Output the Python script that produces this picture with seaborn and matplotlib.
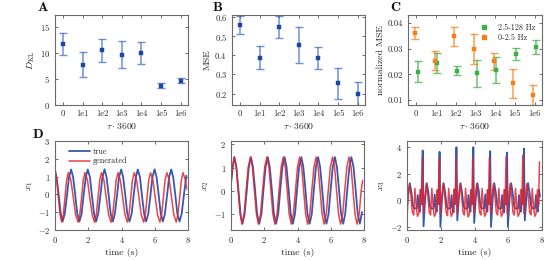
import numpy as np
import pandas as pd
import seaborn as sns
import matplotlib
matplotlib.use("Agg")
import matplotlib.pyplot as plt

# ---- data ----
tau_labels = ["0", "1e1", "1e2", "1e3", "1e4", "1e5", "1e6"]

dkl_mean = [11.8, 7.7, 10.5, 9.7, 10.0, 3.7, 4.7]
dkl_err = [2.1, 2.4, 2.2, 2.6, 2.2, 0.5, 0.5]

mse_mean = [0.561, 0.389, 0.549, 0.455, 0.387, 0.254, 0.200]
mse_err = [0.048, 0.062, 0.058, 0.093, 0.058, 0.080, 0.063]

nmse_hi_mean = [0.0211, 0.0244, 0.0214, 0.0204, 0.0217, 0.0279, 0.0307]
nmse_hi_err = [0.0040, 0.0040, 0.0018, 0.0052, 0.0050, 0.0024, 0.0028]
nmse_lo_mean = [0.0361, 0.0253, 0.0348, 0.0298, 0.0251, 0.0165, 0.0120]
nmse_lo_err = [0.0023, 0.0037, 0.0036, 0.0058, 0.0033, 0.0056, 0.0040]

# x1
t_x1_true = [0, .12, .23, .35, .46, .59, .72, .84, .97, 1.09, 1.22, 1.34, 1.47, 1.60, 1.72, 1.85,
             1.97, 2.10, 2.22, 2.35, 2.47, 2.60, 2.73, 2.85, 2.98, 3.10, 3.23, 3.35, 3.48, 3.60,
             3.73, 3.85, 3.98, 4.10, 4.23, 4.35, 4.48, 4.61, 4.73, 4.86, 4.98, 5.11, 5.23, 5.36,
             5.48, 5.61, 5.74, 5.86, 5.99, 6.11, 6.24, 6.36, 6.49, 6.61, 6.74, 6.86, 6.99, 7.11,
             7.24, 7.36, 7.49, 7.62, 7.75, 7.90]
x1_true = [1.37, .80, -.10, -1.12, -1.52, -1.08, -.06, .96, 1.40, .97, -.06, -1.09, -1.52, -1.09,
           -.06, .96, 1.40, .97, -.06, -1.09, -1.53, -1.09, -.06, .96, 1.41, .97, -.06, -1.09,
           -1.52, -1.09, -.06, .96, 1.40, .97, -.06, -1.09, -1.52, -1.09, -.06, .96, 1.40, .97,
           -.06, -1.09, -1.52, -1.09, -.06, .96, 1.41, .97, -.06, -1.09, -1.52, -1.09, -.06, .96,
           1.40, .97, -.06, -1.09, -1.52, -1.09, -.06, 1.05]
t_x1_gen = [0, .10, .20, .30, .40, .50, .60, .70, .80, .95, 1.10, 1.24, 1.39, 1.49, 1.60, 1.70,
            1.80, 1.95, 2.09, 2.24, 2.38, 2.48, 2.59, 2.69, 2.80, 2.94, 3.08, 3.23, 3.37, 3.47,
            3.58, 3.68, 3.79, 3.93, 4.07, 4.21, 4.35, 4.45, 4.56, 4.66, 4.77, 4.91, 5.05, 5.19,
            5.33, 5.43, 5.54, 5.64, 5.75, 5.89, 6.03, 6.17, 6.31, 6.41, 6.52, 6.62, 6.73, 6.87,
            7.01, 7.15, 7.29, 7.39, 7.50, 7.60, 7.70, 7.84, 7.92]
x1_gen = [1.35, .85, -.15, -1.10, -1.56, -1.15, -.17, .81, 1.22, .81, -.17, -1.15, -1.56, -1.15,
          -.17, .81, 1.22, .81, -.17, -1.15, -1.56, -1.15, -.17, .81, 1.22, .81, -.17, -1.15,
          -1.56, -1.15, -.17, .81, 1.22, .81, -.17, -1.15, -1.56, -1.15, -.17, .81, 1.22, .81,
          -.17, -1.15, -1.56, -1.15, -.17, .81, 1.22, .81, -.17, -1.15, -1.56, -1.15, -.17, .81,
          1.22, .81, -.17, -1.15, -1.56, -1.15, -.17, .81, 1.22, .81, .30]

# x2
t_x2_true = [0, .10, .20, .32, .45, .57, .69, .82, .95, 1.07, 1.20, 1.32, 1.45, 1.57, 1.70, 1.83,
             1.95, 2.08, 2.21, 2.33, 2.46, 2.58, 2.71, 2.84, 2.96, 3.09, 3.22, 3.34, 3.47, 3.59,
             3.72, 3.85, 3.97, 4.10, 4.23, 4.35, 4.48, 4.60, 4.73, 4.86, 4.98, 5.11, 5.24, 5.36,
             5.49, 5.61, 5.74, 5.87, 5.99, 6.12, 6.25, 6.37, 6.50, 6.62, 6.75, 6.87, 6.99, 7.12,
             7.24, 7.37, 7.50, 7.62, 7.75, 7.88]
x2_true = [.30, 1.00, 1.45, 1.03, .03, -.98, -1.40, -.98, .03, 1.03, 1.45, 1.03, .03, -.98, -1.40,
           -.98, .03, 1.03, 1.45, 1.03, .03, -.98, -1.40, -.98, .03, 1.03, 1.45, 1.03, .03, -.98,
           -1.40, -.98, .03, 1.03, 1.45, 1.03, .03, -.98, -1.40, -.98, .03, 1.03, 1.45, 1.03, .03,
           -.98, -1.40, -.98, .03, 1.03, 1.45, 1.03, .03, -.98, -1.40, -.98, .03, 1.03, 1.45, 1.03,
           .03, -.98, -1.40, -.90]
t_x2_gen = [0, .10, .20, .32, .43, .55, .66, .79, .91, 1.04, 1.17, 1.29, 1.41, 1.53, 1.65, 1.78,
            1.90, 2.03, 2.16, 2.28, 2.40, 2.52, 2.64, 2.77, 2.89, 3.02, 3.14, 3.26, 3.38, 3.50,
            3.62, 3.75, 3.88, 4.00, 4.13, 4.25, 4.37, 4.49, 4.61, 4.74, 4.86, 4.99, 5.12, 5.24,
            5.36, 5.48, 5.60, 5.73, 5.85, 5.98, 6.11, 6.23, 6.35, 6.47, 6.59, 6.72, 6.84, 6.97,
            7.10, 7.22, 7.34, 7.46, 7.58, 7.71, 7.83, 7.92]
x2_gen = [.41, 1.05, 1.45, 1.03, .02, -.99, -1.42, -.99, .02, 1.03, 1.45, 1.03, .02, -.99, -1.42,
          -.99, .02, 1.03, 1.45, 1.03, .02, -.99, -1.42, -.99, .02, 1.03, 1.45, 1.03, .02, -.99,
          -1.42, -.99, .02, 1.03, 1.45, 1.03, .02, -.99, -1.42, -.99, .02, 1.03, 1.45, 1.03, .02,
          -.99, -1.42, -.99, .02, 1.03, 1.45, 1.03, .02, -.99, -1.42, -.99, .02, 1.03, 1.45, 1.03,
          .02, -.99, -1.42, -.99, .02, .45]

# x3
t_x3_true = [0, .08, .17, .26, .35, .42, .50, .58, .64, .70, .76, .82, .88, .93,
             .98, 1.08, 1.17, 1.26, 1.35, 1.42, 1.50, 1.58, 1.64, 1.70, 1.76, 1.82, 1.88, 1.93,
             1.98, 2.08, 2.17, 2.26, 2.35, 2.42, 2.50, 2.58, 2.64, 2.70, 2.76, 2.82, 2.88, 2.93,
             2.98, 3.08, 3.17, 3.26, 3.35, 3.42, 3.50, 3.58, 3.64, 3.70, 3.76, 3.82, 3.88, 3.93,
             3.98, 4.08, 4.17, 4.26, 4.35, 4.42, 4.50, 4.58, 4.64, 4.70, 4.76, 4.82, 4.88, 4.93,
             4.98, 5.08, 5.17, 5.26, 5.35, 5.42, 5.50, 5.58, 5.64, 5.70, 5.76, 5.82, 5.88, 5.93,
             5.98, 6.08, 6.17, 6.26, 6.35, 6.42, 6.50, 6.58, 6.64, 6.70, 6.76, 6.82, 6.88, 6.93,
             6.98, 7.08, 7.17, 7.26, 7.35, 7.42, 7.50, 7.58, 7.64, 7.70, 7.76, 7.82, 7.88]
x3_true = [-.30, .60, 1.30, .60, -.40, -.60, -.60, -.62, .40, -.50, -.85, .80, -.30, 3.75,
           -1.95, .20, 1.30, .65, -.40, -.60, -.62, -.60, .45, -.50, -.85, .75, -.30, 3.65,
           -2.00, .20, 1.30, .60, -.45, -.62, -.60, -.60, .40, -.55, -.90, .80, -.25, 4.00,
           -1.50, .25, 1.30, .60, -.40, -.60, -.62, -.60, .40, -.50, -.85, .80, -.30, 4.00,
           -1.70, .20, 1.30, .65, -.40, -.60, -.60, -.62, .45, -.50, -.85, .80, -.30, 3.70,
           -2.00, .20, 1.30, .60, -.40, -.60, -.62, -.60, .40, -.50, -.90, .80, -.30, 3.60,
           -2.00, .20, 1.30, .60, -.45, -.60, -.60, -.62, .40, -.50, -.85, .80, -.30, 3.90,
           -1.50, .20, 1.30, .60, -.40, -.60, -.60, -.62, .40, -.50, -.85, .80, .30]
t_x3_gen = [0, .07, .15, .24, .32, .40, .47, .55, .62, .70, .78, .85, .91,
            .98, 1.06, 1.15, 1.24, 1.32, 1.40, 1.47, 1.55, 1.62, 1.70, 1.78, 1.85, 1.91,
            1.98, 2.06, 2.15, 2.24, 2.32, 2.40, 2.47, 2.55, 2.62, 2.70, 2.78, 2.85, 2.91,
            2.98, 3.06, 3.15, 3.24, 3.32, 3.40, 3.47, 3.55, 3.62, 3.70, 3.78, 3.85, 3.89,
            3.96, 4.04, 4.13, 4.22, 4.30, 4.38, 4.45, 4.53, 4.60, 4.68, 4.76, 4.83, 4.88,
            4.95, 5.03, 5.12, 5.21, 5.29, 5.37, 5.44, 5.52, 5.59, 5.67, 5.75, 5.82, 5.87,
            5.94, 6.02, 6.11, 6.20, 6.28, 6.36, 6.43, 6.51, 6.58, 6.66, 6.74, 6.81, 6.86,
            6.93, 7.01, 7.10, 7.19, 7.27, 7.35, 7.42, 7.50, 7.57, 7.65, 7.73, 7.80, 7.85]
x3_gen = [-1.40, .30, 1.25, .30, -.90, -1.10, .90, -.50, -1.20, -1.00, .80, -.30, 3.20,
          -1.00, .30, 1.25, .30, -.90, -1.10, .90, -.50, -1.20, -1.00, .80, -.30, 3.20,
          -1.00, .30, 1.25, .30, -.90, -1.15, .90, -.50, -1.20, -1.00, .85, -.30, 3.20,
          -1.00, .30, 1.25, .30, -.90, -1.10, .90, -.50, -1.25, -1.00, .80, -.30, 3.20,
          -1.00, .30, 1.25, .30, -.90, -1.10, .90, -.50, -1.20, -1.00, .80, -.30, 3.20,
          -1.00, .30, 1.25, .30, -.90, -1.10, .90, -.50, -1.20, -1.00, .80, -.30, 3.30,
          -1.00, .30, 1.25, .30, -.90, -1.10, .90, -.50, -1.20, -1.00, .80, -.30, 3.40,
          -1.00, .30, 1.25, .30, -.90, -1.10, .90, -.50, -1.20, -1.00, .80, -.30, 2.90]

# ---- style ----
sns.set_style("ticks")
plt.rcParams.update({
    "font.family": ["cmr10", "DejaVu Serif"],
    "mathtext.fontset": "cm",
    "axes.unicode_minus": False,
    "axes.formatter.use_mathtext": True,
    "font.size": 6.5,
    "axes.edgecolor": "#6b6b6b",
    "axes.linewidth": 0.8,
    "xtick.direction": "in",
    "ytick.direction": "in",
    "xtick.top": True,
    "ytick.right": True,
    "xtick.major.size": 2.2,
    "ytick.major.size": 2.2,
    "xtick.major.width": 0.6,
    "ytick.major.width": 0.6,
    "xtick.color": "#555555",
    "ytick.color": "#555555",
    "xtick.labelcolor": "#262626",
    "ytick.labelcolor": "#262626",
    "xtick.labelsize": 6.2,
    "ytick.labelsize": 6.2,
    "axes.labelsize": 7,
    "axes.labelcolor": "#262626",
})

BLUE = "#1f45a6"
BLUE_ERR = "#3d6cc6"
GREEN = "#3fae49"
ORANGE = "#f5801a"
LINE_BLUE = "#1d47a8"
LINE_RED = "#e8232b"

fig = plt.figure(figsize=(5.48, 2.6), dpi=100)
W, H = 548, 260


def add_ax(x0, y0, x1, y1):
    return fig.add_axes([x0 / W, 1 - y1 / H, (x1 - x0) / W, (y1 - y0) / H])


axA = add_ax(55, 15, 188, 105)
axB = add_ax(232, 15, 365, 105)
axC = add_ax(408, 15, 542, 105)
axD1 = add_ax(55, 141, 188, 230)
axD2 = add_ax(231, 141, 364, 230)
axD3 = add_ax(407, 141, 542, 230)

pos = np.arange(len(tau_labels))


def err_panel(ax, xs, mean, err, color, ecolor):
    ax.errorbar(xs, mean, yerr=err, fmt="none", ecolor=ecolor, elinewidth=1.1,
                capsize=2.6, capthick=1.0, alpha=0.75, zorder=2)
    df = pd.DataFrame({"x": xs, "y": mean})
    sns.scatterplot(data=df, x="x", y="y", marker="s", s=12, color=color,
                    edgecolor=color, linewidth=0.3, ax=ax, zorder=3)


err_panel(axA, pos, dkl_mean, dkl_err, BLUE, BLUE_ERR)
axA.set_ylim(0, 17.3)
axA.set_yticks([0, 5, 10, 15])
axA.set_ylabel(r"$D_{\mathrm{KL}}$", labelpad=2)

err_panel(axB, pos, mse_mean, mse_err, BLUE, BLUE_ERR)
axB.set_ylim(0.14, 0.612)
axB.set_yticks([0.2, 0.3, 0.4, 0.5, 0.6])
axB.set_ylabel("MSE", labelpad=2)

err_panel(axC, pos + 0.07, nmse_hi_mean, nmse_hi_err, GREEN, GREEN)
err_panel(axC, pos - 0.07, nmse_lo_mean, nmse_lo_err, ORANGE, ORANGE)
axC.set_ylim(0.008, 0.0432)
axC.set_yticks([0.01, 0.02, 0.03, 0.04])
axC.set_yticklabels(["0.01", "0.02", "0.03", "0.04"])
axC.set_ylabel("normalized MSE", labelpad=2)
hC = [plt.Line2D([], [], ls="none", marker="s", ms=3.3, color=GREEN),
      plt.Line2D([], [], ls="none", marker="s", ms=3.3, color=ORANGE)]
axC.legend(hC, ["2.5-128 Hz", "0-2.5 Hz"], loc="upper right", frameon=False,
           fontsize=5.8, handlelength=1.0, handletextpad=1.2, labelspacing=0.25,
           borderaxespad=0.3, bbox_to_anchor=(0.99, 0.97))

for ax in (axA, axB, axC):
    ax.set_xlim(-0.42, 6.38)
    ax.set_xticks(pos)
    ax.set_xticklabels(tau_labels)
    ax.set_xlabel(r"$\tau \cdot 3600$", labelpad=2)

series = [
    (axD1, t_x1_true, x1_true, t_x1_gen, x1_gen, (-2, 3), [-2, -1, 0, 1, 2, 3], r"$x_1$"),
    (axD2, t_x2_true, x2_true, t_x2_gen, x2_gen, (-1.67, 2.14), [-1, 0, 1, 2], r"$x_2$"),
    (axD3, t_x3_true, x3_true, t_x3_gen, x3_gen, (-2.23, 4.47), [-2, 0, 2, 4], r"$x_3$"),
]
for ax, tt, yt, tg, yg, ylim, yticks, lab in series:
    sns.lineplot(x=tt, y=yt, sort=False, estimator=None, color=LINE_BLUE, lw=1.3,
                 alpha=0.9, ax=ax, label="true")
    sns.lineplot(x=tg, y=yg, sort=False, estimator=None, color=LINE_RED, lw=1.1,
                 alpha=0.85, ax=ax, label="generated")
    ax.set_xlim(0, 8)
    ax.set_xticks([0, 2, 4, 6, 8])
    ax.set_ylim(*ylim)
    ax.set_yticks(yticks)
    ax.set_ylabel(lab, labelpad=2)
    ax.set_xlabel("time (s)", labelpad=2)
    if ax is axD1:
        ax.legend(loc="upper left", frameon=False, fontsize=5.8, handlelength=2.6,
                  handletextpad=0.3, labelspacing=0.15, borderaxespad=0.4,
                  bbox_to_anchor=(0.06, 1.0))
    else:
        ax.get_legend().remove()

for ax in (axA, axB, axC, axD1, axD2, axD3):
    for sp in ax.spines.values():
        sp.set_visible(True)

for letter, x, y in [("A", 38, 2), ("B", 213, 2), ("C", 390, 2), ("D", 33, 129)]:
    fig.text(x / W, 1 - y / H, letter, family="cmb10", fontsize=10, va="top", ha="left",
             color="#111111")

fig.savefig("out.png", dpi=100)
